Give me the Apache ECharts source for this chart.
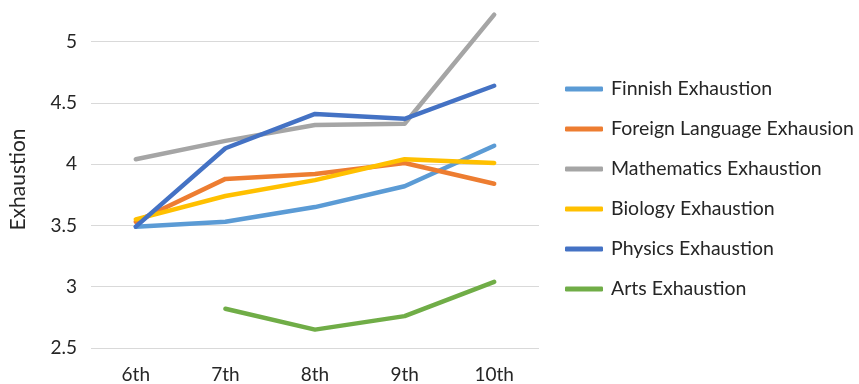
<!DOCTYPE html>
<html><head><meta charset="utf-8">
<script src="https://cdn.jsdelivr.net/npm/echarts@6/dist/echarts.min.js"></script>
<style>html,body{margin:0;padding:0;background:#fff}#c{width:859px;height:384px}</style>
</head><body><div id="c"></div>
<script>
const categories = ['6th', '7th', '8th', '9th', '10th'];
const finnish = [3.49, 3.53, 3.65, 3.82, 4.15];
const foreignLanguage = [3.53, 3.88, 3.92, 4.01, 3.84];
const mathematics = [4.04, 4.19, 4.32, 4.33, 5.22];
const biology = [3.55, 3.74, 3.87, 4.04, 4.01];
const physics = [3.49, 4.13, 4.41, 4.37, 4.64];
const arts = [null, 2.82, 2.65, 2.76, 3.04];
const seriesNames = ['Finnish Exhaustion', 'Foreign Language Exhausion', 'Mathematics Exhaustion', 'Biology Exhaustion', 'Physics Exhaustion', 'Arts Exhaustion'];
const seriesData = [finnish, foreignLanguage, mathematics, biology, physics, arts];
const colors = ['#5B9BD5', '#ED7D31', '#A5A5A5', '#FFC000', '#4472C4', '#70AD47'];
const font = 'Lato';
const chart = echarts.init(document.getElementById('c'), null, {renderer: 'canvas'});
chart.setOption({
  animation: false,
  color: colors,
  grid: {left: 87, right: 320, top: 11, bottom: 34, containLabel: false},
  legend: {
    orient: 'vertical', left: 560, top: 74,
    itemWidth: 38, itemHeight: 5, itemGap: 20, icon: 'roundRect',
    textStyle: {fontFamily: font, fontSize: 19.5, color: '#262626', lineHeight: 20, padding: [0, 0, 0, 3]},
    data: seriesNames
  },
  xAxis: {
    type: 'category', data: categories, boundaryGap: true,
    axisLine: {show: false}, axisTick: {show: false},
    axisLabel: {fontFamily: font, fontSize: 19, color: '#262626', margin: 17}
  },
  yAxis: {
    type: 'value', min: 2.5, max: 5.25, interval: 0.5,
    name: 'Exhaustion', nameLocation: 'middle', nameGap: 62, nameRotate: 90,
    nameTextStyle: {fontFamily: font, fontSize: 21, color: '#262626'},
    axisLine: {show: false}, axisTick: {show: false},
    axisLabel: {fontFamily: font, fontSize: 19, color: '#262626', margin: 14, showMaxLabel: false},
    splitLine: {showMaxLine: false, lineStyle: {color: '#D9D9D9', width: 1}}
  },
  series: seriesNames.map((n, i) => ({
    name: n, type: 'line', data: seriesData[i], showSymbol: false, symbol: 'none',
    connectNulls: false, lineStyle: {width: 4.5, cap: 'round', join: 'round'}
  }))
});
</script></body></html>
